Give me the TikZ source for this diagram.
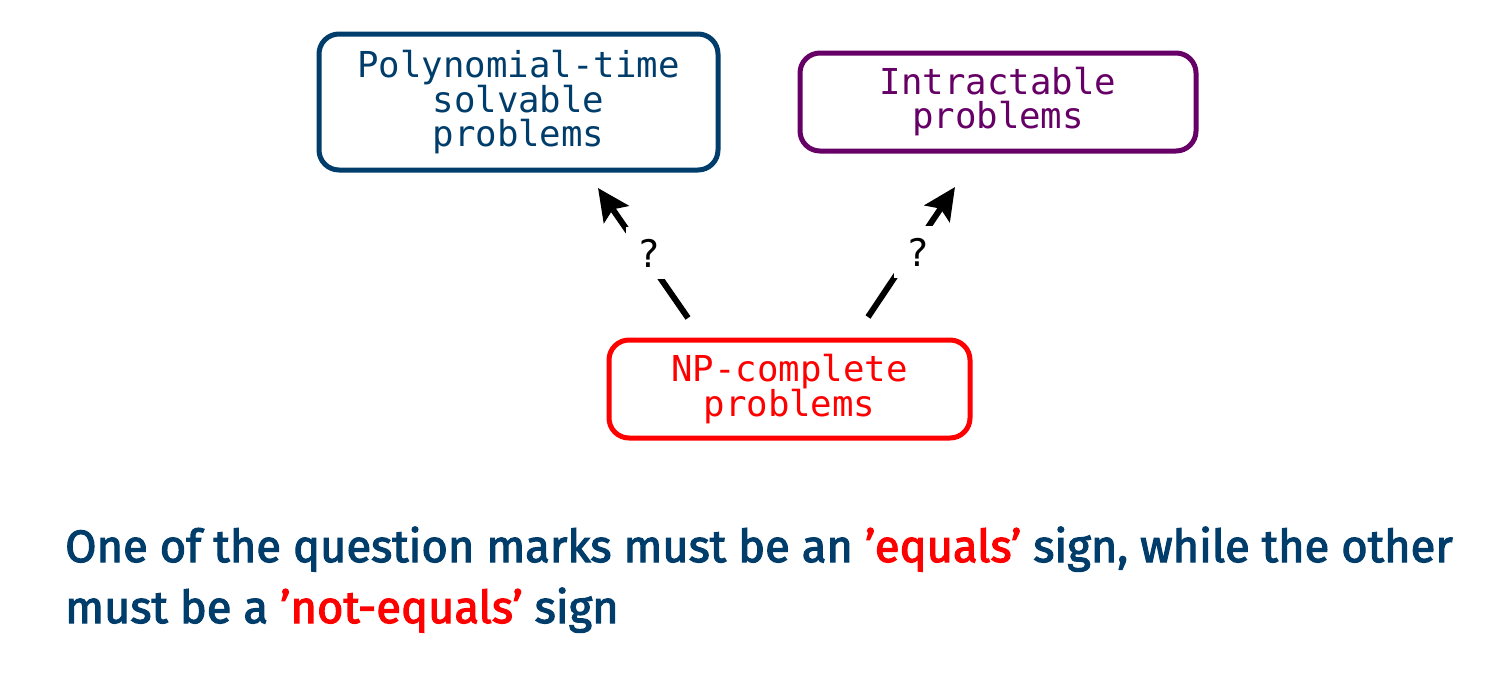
\documentclass[tikz,border=0pt]{standalone}
\usepackage{fontspec}
\setmainfont{Fira Sans}
\newfontfamily\botf[FakeBold=2.5]{Fira Sans}
\newfontfamily\monof{DejaVu Sans Mono}
\usetikzlibrary{arrows.meta}
\definecolor{dblue}{RGB}{0,61,107}
\definecolor{dpurple}{RGB}{102,0,102}
\definecolor{dred}{RGB}{255,0,0}
\tikzset{
  probbox/.style={draw, line width=5pt, rounded corners=20pt, inner sep=0pt, align=center,
    font=\monof\fontsize{35.7}{34}\selectfont},
  qarrow/.style={line width=6pt, -{Stealth[length=32pt,width=30pt,inset=6pt]}},
  qmark/.style={fill=white, inner sep=12pt, font=\monof\fontsize{38}{34}\selectfont},
  bottomtext/.style={anchor=base west, inner sep=0pt, text=dblue,
    font=\botf\fontsize{45.3}{52}\selectfont}
}
\begin{document}
\begin{tikzpicture}[x=1pt,y=-1pt]
\useasboundingbox (0,0) rectangle (1501,691);
\node[probbox, draw=dblue, text=dblue, minimum width=399pt, minimum height=136pt] (poly) at (518.5,102) {Polynomial-time\\solvable\\problems};
\node[probbox, draw=dpurple, text=dpurple, minimum width=396pt, minimum height=98pt] (intr) at (998,102) {Intractable\\problems};
\node[probbox, draw=dred, text=dred, minimum width=361pt, minimum height=98pt] (np) at (789.5,389) {NP-complete\\problems};
\coordinate (l1) at (688,318);
\coordinate (l2) at (598,188);
\coordinate (r1) at (868,317);
\coordinate (r2) at (955,187);
\draw[qarrow] (l1) -- node[qmark, xshift=6pt]{?} (l2);
\draw[qarrow] (r1) -- node[qmark, xshift=6pt]{?} (r2);
\node[bottomtext] (t1) at (65,562) {One of the question marks must be an \textcolor{dred}{’equals’} sign, while the other};
\node[bottomtext] (t2) at (65,623) {must be a \textcolor{dred}{’not-equals’} sign};
\end{tikzpicture}
\end{document}
